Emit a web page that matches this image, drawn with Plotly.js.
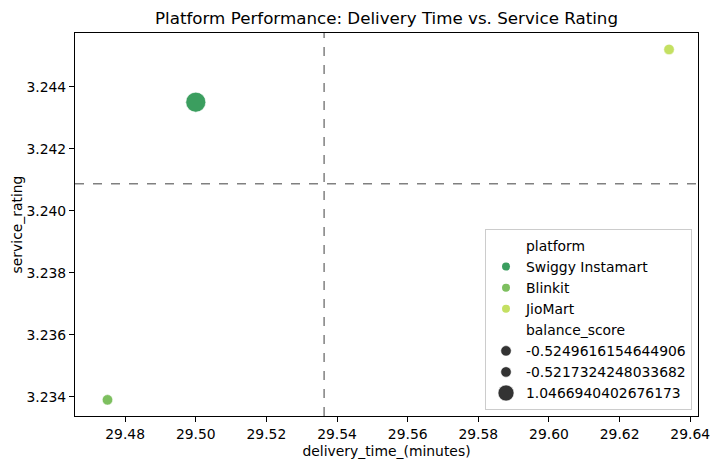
<!DOCTYPE html>
<html>
<head>
<meta charset="utf-8">
<script src="https://cdn.plot.ly/plotly-3.0.1.min.js"></script>
<style>html,body{margin:0;padding:0;background:#fff;}#chart{width:719px;height:470px;}</style>
</head>
<body>
<div id="chart"></div>
<script>
const platforms = ["Swiggy Instamart", "Blinkit", "JioMart"];
const deliveryTime = [29.500, 29.475, 29.634];
const serviceRating = [3.2435, 3.2339, 3.2452];
const balanceScore = [1.0466940402676173, -0.5249616154644906, -0.5217324248033682];
const xTicks = [29.48, 29.50, 29.52, 29.54, 29.56, 29.58, 29.60, 29.62, 29.64];
const yTicks = [3.234, 3.236, 3.238, 3.240, 3.242, 3.244];

const colors = {"Swiggy Instamart": "#3b9e5f", "Blinkit": "#7dbf5f", "JioMart": "#c4e062"};
const FONT = "DejaVu Sans, sans-serif";
const FS = 13.9;

const bMin = Math.min(...balanceScore), bMax = Math.max(...balanceScore);
function sizeOf(b) { return 10.5 + (b - bMin) / (bMax - bMin) * 9.5; }

const traces = [];
platforms.forEach((p, i) => {
  traces.push({
    type: "scatter", mode: "markers",
    x: [deliveryTime[i]], y: [serviceRating[i]],
    marker: {color: colors[p], size: sizeOf(balanceScore[i]), line: {color: "#ffffff", width: 0.6}},
    showlegend: false, name: p, hoverinfo: "x+y+name"
  });
});
function header(name) {
  return {type: "scatter", mode: "markers", x: [null], y: [null], name: name,
    marker: {size: 2, color: "rgba(0,0,0,0)", line: {width: 0}}, showlegend: true, hoverinfo: "skip"};
}
traces.push(header("platform"));
platforms.forEach((p) => {
  traces.push({type: "scatter", mode: "markers", x: [null], y: [null], name: p,
    marker: {color: colors[p], size: 8}, showlegend: true});
});
traces.push(header("balance_score"));
const sortedScores = balanceScore.slice().sort((a, b) => a - b);
sortedScores.forEach((b) => {
  traces.push({type: "scatter", mode: "markers", x: [null], y: [null], name: String(b),
    marker: {color: "#333333", size: sizeOf(b), line: {color: "#ffffff", width: 0.6}}, showlegend: true});
});

const meanX = deliveryTime.reduce((a, b) => a + b, 0) / deliveryTime.length;
const meanY = serviceRating.reduce((a, b) => a + b, 0) / serviceRating.length;

const axisCommon = {
  showgrid: false, zeroline: false, showline: true, mirror: true,
  linecolor: "#000000", linewidth: 1, ticks: "outside", ticklen: 5, tickwidth: 1,
  tickcolor: "#000000", tickfont: {family: FONT, size: FS, color: "#000000"}
};

const layout = {
  width: 719, height: 470,
  margin: {l: 75, r: 21, t: 33, b: 54},
  paper_bgcolor: "#ffffff", plot_bgcolor: "#ffffff",
  title: {text: "Platform Performance: Delivery Time vs. Service Rating",
    font: {family: FONT, size: 16.7, color: "#000000"}, x: 0.5, xref: "paper", xanchor: "center", y: 0.962, yanchor: "middle"},
  xaxis: Object.assign({}, axisCommon, {
    range: [29.4658, 29.6422], tickvals: xTicks, ticktext: xTicks.map(v => v.toFixed(2)),
    title: {text: "delivery_time_(minutes)", font: {family: FONT, size: FS, color: "#000000"}, standoff: 5}
  }),
  yaxis: Object.assign({}, axisCommon, {
    range: [3.23338, 3.24573], tickvals: yTicks, ticktext: yTicks.map(v => v.toFixed(3)),
    title: {text: "service_rating", font: {family: FONT, size: FS, color: "#000000"}, standoff: 0}
  }),
  shapes: [
    {type: "line", xref: "x", yref: "paper", x0: meanX, x1: meanX, y0: 0, y1: 1,
      line: {color: "#808080", width: 1.5, dash: "dash"}},
    {type: "line", xref: "paper", yref: "y", x0: 0, x1: 1, y0: meanY, y1: meanY,
      line: {color: "#808080", width: 1.5, dash: "dash"}}
  ],
  legend: {
    x: 0.9904, xanchor: "right", y: 0.0157, yanchor: "bottom",
    bgcolor: "#ffffff", bordercolor: "#cccccc", borderwidth: 1,
    font: {family: FONT, size: FS, color: "#000000"},
    itemsizing: "trace", tracegroupgap: 0
  },
  showlegend: true
};

Plotly.newPlot("chart", traces, layout, {displayModeBar: false, staticPlot: true});
</script>
</body>
</html>
